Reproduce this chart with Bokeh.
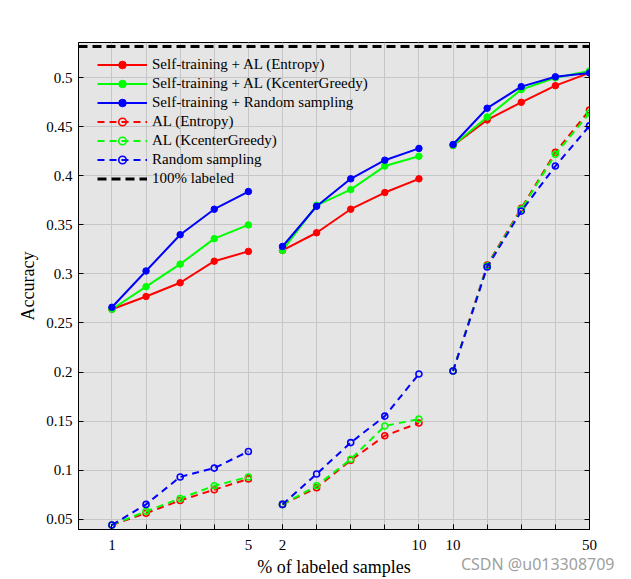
from bokeh.plotting import figure
from bokeh.models import (FixedTicker, CustomJSTickFormatter, LinearAxis, Range1d,
                          Title, ColumnDataSource)
from bokeh.embed import file_html
from bokeh.resources import INLINE

# ---------------- data ----------------
x_idx = list(range(15))
x_tick_labels = ["1", "", "", "", "5", "2", "", "", "", "10", "10", "", "", "", "50"]
y_ticks = [0.05, 0.1, 0.15, 0.2, 0.25, 0.3, 0.35, 0.4, 0.45, 0.5]

st_entropy = [0.264, 0.277, 0.291, 0.313, 0.323,
              0.324, 0.342, 0.366, 0.383, 0.397,
              0.431, 0.457, 0.475, 0.492, 0.505]
st_kcenter = [0.264, 0.287, 0.310, 0.336, 0.350,
              0.324, 0.370, 0.386, 0.410, 0.420,
              0.431, 0.460, 0.488, 0.500, 0.507]
st_random = [0.266, 0.303, 0.340, 0.366, 0.384,
             0.328, 0.369, 0.397, 0.416, 0.428,
             0.432, 0.469, 0.491, 0.501, 0.505]
al_entropy = [0.044, 0.056, 0.069, 0.080, 0.091,
              0.065, 0.082, 0.110, 0.135, 0.148,
              0.201, 0.309, 0.367, 0.424, 0.467]
al_kcenter = [0.044, 0.058, 0.071, 0.084, 0.093,
              0.065, 0.084, 0.111, 0.145, 0.152,
              0.201, 0.308, 0.366, 0.422, 0.464]
rand_samp = [0.044, 0.065, 0.093, 0.102, 0.119,
             0.065, 0.096, 0.128, 0.155, 0.198,
             0.201, 0.307, 0.364, 0.410, 0.451]
full_labeled = 0.532

series = [
    ("Self-training + AL (Entropy)", st_entropy, "#FF0000", "solid"),
    ("Self-training + AL (KcenterGreedy)", st_kcenter, "#00FF00", "solid"),
    ("Self-training + Random sampling", st_random, "#0000FF", "solid"),
    ("AL (Entropy)", al_entropy, "#FF0000", "dashed"),
    ("AL (KcenterGreedy)", al_kcenter, "#00FF00", "dashed"),
    ("Random sampling", rand_samp, "#0000FF", "dashed"),
]

# ---------------- figure ----------------
x_lo, x_hi = -0.98, 14
FONT = "Liberation Serif"

p = figure(width=625, height=579, x_range=Range1d(x_lo, x_hi),
           y_range=Range1d(0.0394, 0.536),
           output_backend="svg", toolbar_location=None,
           min_border_left=78, min_border_right=36,
           min_border_top=42, min_border_bottom=50)

p.background_fill_color = "#E5E5E5"
p.border_fill_color = "white"
p.outline_line_color = "black"
p.outline_line_width = 1
p.outline_line_alpha = 1

x_major = [i for i, lab in enumerate(x_tick_labels) if lab]
xt = FixedTicker(ticks=x_major, minor_ticks=x_idx)
yt = FixedTicker(ticks=y_ticks)

p.xaxis.ticker = xt
p.xaxis.formatter = CustomJSTickFormatter(args=dict(labels=x_tick_labels),
                                          code="return labels[Math.round(tick)];")
p.yaxis.ticker = yt
p.yaxis.formatter = CustomJSTickFormatter(
    code="return tick.toFixed(2).replace(/0+$/, '').replace(/\\.$/, '');")

p.xgrid.ticker = xt
p.ygrid.ticker = yt
for g in (p.xgrid, p.ygrid):
    g.grid_line_color = "#C6C6C6"
    g.grid_line_width = 1
p.xgrid.minor_grid_line_color = "#C6C6C6"
p.xgrid.minor_grid_line_width = 1

for ax in (p.xaxis, p.yaxis):
    ax.axis_line_color = "black"
    ax.major_tick_line_color = "black"
    ax.major_tick_in = 5
    ax.major_tick_out = 0
    ax.major_label_text_font = FONT
    ax.major_label_text_font_size = "15px"
    ax.major_label_text_color = "black"
    ax.axis_label_text_font = FONT
    ax.axis_label_text_font_size = "18px"
    ax.axis_label_text_font_style = "normal"
    ax.axis_label_text_color = "black"

p.yaxis.minor_tick_line_color = None
p.xaxis.minor_tick_line_color = "black"
p.xaxis.minor_tick_in = 5
p.xaxis.minor_tick_out = 0

p.xaxis.axis_label = "% of labeled samples"
p.yaxis.axis_label = "Accuracy"
p.xaxis.major_label_standoff = 10
p.xaxis.axis_label_standoff = 4
p.yaxis.major_label_standoff = 6
p.yaxis.axis_label_standoff = 5

# right axis: tick marks only (minor ticks, so no labels)
ra = LinearAxis(ticker=FixedTicker(ticks=[], minor_ticks=y_ticks),
                major_tick_line_color=None, minor_tick_in=5, minor_tick_out=0,
                minor_tick_line_color="black", axis_line_color="black")
p.add_layout(ra, "right")


def with_gaps(vals):
    xs, ys = [], []
    for i, v in enumerate(vals):
        if i in (5, 10):
            xs.append(float("nan"))
            ys.append(float("nan"))
        xs.append(x_idx[i])
        ys.append(v)
    return xs, ys


for name, vals, col, style in series:
    xs, ys = with_gaps(vals)
    src = ColumnDataSource(dict(x=xs, y=ys))
    if style == "solid":
        p.line("x", "y", source=src, line_color=col, line_width=2, legend_label=name)
        p.scatter("x", "y", source=src, size=6.5, fill_color=col, line_color=col,
                  line_width=1, legend_label=name)
    else:
        p.line("x", "y", source=src, line_color=col, line_width=2, line_dash="7 5",
               legend_label=name)
        p.scatter("x", "y", source=src, size=6, fill_alpha=0, line_color=col,
                  line_width=1.6, legend_label=name)

p.line([x_lo, x_hi], [full_labeled, full_labeled], line_color="black", line_width=3,
       line_dash="9 5", legend_label="100% labeled")

lg = p.legend[0]
lg.location = (19, 341)
lg.padding = 0
lg.margin = 0
lg.spacing = 0
lg.label_height = 19
lg.glyph_height = 19
lg.glyph_width = 50
lg.label_standoff = 5
lg.label_text_font = FONT
lg.label_text_font_size = "15px"
lg.label_text_color = "black"
lg.background_fill_alpha = 0
lg.border_line_alpha = 0

# watermark below the plot, right-aligned
wm = Title(text="CSDN @u013308709", align="right", vertical_align="top",
           standoff=-54, offset=-25, text_font="Noto Sans", text_font_size="16px",
           text_font_style="normal", text_color="#A0A0A0")
p.add_layout(wm, "below")

open("out.html", "w").write(file_html(p, INLINE))
